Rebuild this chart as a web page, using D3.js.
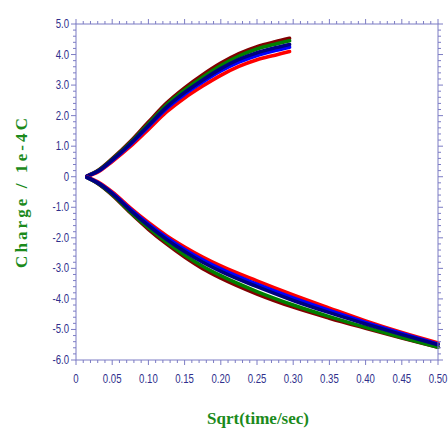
<!DOCTYPE html>
<html><head><meta charset="utf-8">
<script src="https://cdn.jsdelivr.net/npm/d3@7"></script>
<style>body{margin:0;background:#fff}svg{display:block}</style>
</head><body>
<script>
const W=448,H=430;
const xTicks=[0,0.05,0.10,0.15,0.20,0.25,0.30,0.35,0.40,0.45,0.50];
const xTickLabels=["0","0.05","0.10","0.15","0.20","0.25","0.30","0.35","0.40","0.45","0.50"];
const yTicks=[5,4,3,2,1,0,-1,-2,-3,-4,-5,-6];
const yTickLabels=["5.0","4.0","3.0","2.0","1.0","0","-1.0","-2.0","-3.0","-4.0","-5.0","-6.0"];

const xTop=[0.015,0.03,0.05,0.075,0.1,0.125,0.15,0.175,0.2,0.225,0.25,0.275,0.295];
const topRed=[0.01,0.15,0.50,0.99,1.55,2.12,2.58,2.97,3.32,3.61,3.83,3.98,4.10];
const topBlue=[0.02,0.17,0.53,1.05,1.64,2.23,2.70,3.10,3.46,3.75,3.97,4.13,4.24];
const topNavy=[0.02,0.18,0.55,1.08,1.68,2.28,2.76,3.17,3.54,3.84,4.06,4.22,4.33];
const topGreen=[0.02,0.19,0.57,1.11,1.73,2.35,2.84,3.26,3.64,3.95,4.18,4.34,4.45];
const topDarkRed=[0.02,0.20,0.59,1.15,1.79,2.41,2.91,3.34,3.72,4.03,4.26,4.42,4.53];

const xBot=[0.015,0.03,0.05,0.075,0.1,0.125,0.15,0.175,0.2,0.25,0.3,0.35,0.4,0.45,0.5];
const botRed=[-0.01,-0.17,-0.5,-1.02,-1.5,-1.93,-2.3,-2.63,-2.92,-3.41,-3.87,-4.3,-4.72,-5.1,-5.44];
const botBlue=[-0.02,-0.19,-0.53,-1.06,-1.55,-1.99,-2.38,-2.72,-3.02,-3.52,-3.97,-4.38,-4.77,-5.13,-5.48];
const botNavy=[-0.02,-0.2,-0.55,-1.1,-1.6,-2.05,-2.45,-2.8,-3.1,-3.6,-4.05,-4.45,-4.82,-5.17,-5.5];
const botGreen=[-0.02,-0.21,-0.58,-1.15,-1.67,-2.14,-2.56,-2.93,-3.24,-3.76,-4.2,-4.58,-4.93,-5.26,-5.58];
const botDarkRed=[-0.02,-0.22,-0.6,-1.18,-1.72,-2.2,-2.63,-3.01,-3.32,-3.84,-4.27,-4.63,-4.96,-5.28,-5.58];

const seriesNames=["darkred","green","red","blue","navy"];
const seriesColors=["#800000","#008000","#ff0000","#0000ff","#000080"];
const topSeries=[topDarkRed,topGreen,topRed,topBlue,topNavy];
const botSeries=[botDarkRed,botGreen,botRed,botBlue,botNavy];

const L=76,R=438,T=24,B=360;
const x=d3.scaleLinear().domain([0,0.5]).range([L,R]);
const y=d3.scaleLinear().domain([-6,5]).range([B,T]);
const svg=d3.select("body").append("svg").attr("width",W).attr("height",H);
const axisCol="#7c7cc4", labCol="#2f2f8c";
const tickFont="'Liberation Sans',Arial,sans-serif";

const line=d3.line().curve(d3.curveMonotoneX);
function drawSet(xs,set){
  set.forEach((vals,i)=>{
    svg.append("path").attr("d",line(xs.map((d,j)=>[x(d),y(vals[j])])))
      .attr("fill","none").attr("stroke",seriesColors[i]).attr("stroke-width",3.6)
      .attr("stroke-linecap","round");
  });
}
drawSet(xTop,topSeries);
drawSet(xBot,botSeries);

// axes
const g=svg.append("g").attr("stroke",axisCol).attr("stroke-width",1);
g.append("rect").attr("x",L).attr("y",T).attr("width",R-L).attr("height",B-T).attr("fill","none");
const xMinor=d3.range(0,50.5,1).map(d=>d/100);
xMinor.forEach(v=>{
  const major=Math.abs(v*20-Math.round(v*20))<1e-6;
  const len=major?5:3;
  g.append("line").attr("x1",x(v)).attr("x2",x(v)).attr("y1",B).attr("y2",B+len);
  g.append("line").attr("x1",x(v)).attr("x2",x(v)).attr("y1",T).attr("y2",T-len);
});
const yMinor=d3.range(-30,25.5,1).map(d=>d/5);
yMinor.forEach(v=>{
  const major=Math.abs(v-Math.round(v))<1e-6;
  const len=major?5:3;
  g.append("line").attr("x1",L-len).attr("x2",L).attr("y1",y(v)).attr("y2",y(v));
  g.append("line").attr("x1",R).attr("x2",R+len).attr("y1",y(v)).attr("y2",y(v));
});

const sx=0.8;
svg.selectAll("text.yt").data(yTicks).enter().append("text")
  .attr("transform",d=>`translate(69,${y(d)+4}) scale(${sx},1)`).attr("text-anchor","end")
  .attr("font-family",tickFont).attr("font-size",12).attr("fill",labCol)
  .text((d,i)=>yTickLabels[i]);
svg.selectAll("text.xt").data(xTicks).enter().append("text")
  .attr("transform",d=>`translate(${x(d)},383) scale(${sx},1)`).attr("text-anchor","middle")
  .attr("font-family",tickFont).attr("font-size",12).attr("fill",labCol)
  .text((d,i)=>xTickLabels[i]);

svg.append("text").attr("x",258).attr("y",424).attr("text-anchor","middle")
  .attr("font-family","'Liberation Serif','Times New Roman',serif").attr("font-weight","bold")
  .attr("font-size",17).attr("fill","#1b8a1b").text("Sqrt(time/sec)");
svg.append("text").attr("transform","translate(27,193) rotate(-90)").attr("text-anchor","middle")
  .attr("font-family","'Liberation Serif','Times New Roman',serif").attr("font-weight","bold")
  .attr("font-size",17).attr("fill","#1b8a1b")
  .attr("textLength",150).attr("lengthAdjust","spacing").text("Charge / 1e-4C");
</script>
</body></html>
